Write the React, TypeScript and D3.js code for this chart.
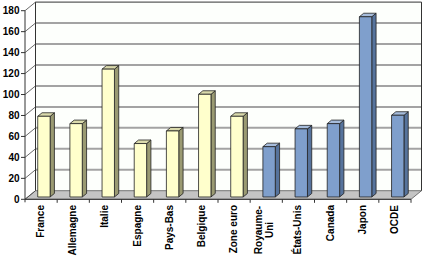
import React from "react";
import * as d3 from "d3";

const categories = ["France", "Allemagne", "Italie", "Espagne", "Pays-Bas", "Belgique", "Zone euro", "Royaume-Uni", "États-Unis", "Canada", "Japon", "OCDE"];
const labelLines = [["France"], ["Allemagne"], ["Italie"], ["Espagne"], ["Pays-Bas"], ["Belgique"], ["Zone euro"], ["Royaume-", "Uni"], ["États-Unis"], ["Canada"], ["Japon"], ["OCDE"]];
const values = [77, 70, 122, 51, 63, 98, 77, 48, 65, 70, 172, 78];
const groups = ["eu", "eu", "eu", "eu", "eu", "eu", "eu", "other", "other", "other", "other", "other"];
const yTicks = [0, 20, 40, 60, 80, 100, 120, 140, 160, 180];

const W = 424, H = 259;
const DX = 10.5, DY = 8.6;
const BAR_F0 = 0.27, BAR_F1 = 0.68;

const palette: Record<string, { front: string; side: string; top: string }> = {
  eu: { front: "#ffffcc", side: "#9a9a72", top: "#dadaac" },
  other: { front: "#7f9fcc", side: "#56739c", top: "#a6bcdb" },
};

export default function App() {
  const x = d3.scaleBand<string>().domain(categories).range([25, 411]).paddingInner(0).paddingOuter(0);
  const y = d3.scaleLinear().domain([0, 180]).range([199.3, 10.7]);
  const x0 = x.range()[0], x1 = x.range()[1];
  const y0 = y(0), yTop = y(180);
  const bw = x.bandwidth() * 0.385;
  const font = "'Liberation Sans', Arial, sans-serif";

  return (
    <svg width={W} height={H} style={{ position: "absolute", left: 0, top: 0, background: "#fff" }}>
      {/* back wall */}
      <rect x={x0 + DX} y={yTop - DY} width={x1 - x0} height={y0 - yTop} fill="#fdfffc" />
      {/* floor */}
      <path
        d={`M${x0},${y0}L${x1},${y0}L${x1 + DX},${y0 - DY}L${x0 + DX},${y0 - DY}Z`}
        fill="#c4c4c4"
        stroke="#555"
        strokeWidth={0.8}
      />
      {/* back gridlines */}
      {yTicks.slice(1, -1).map((t) => (
        <line key={"g" + t} x1={x0 + DX} x2={x1 + DX} y1={y(t) - DY} y2={y(t) - DY} stroke="#a3a3a3" strokeWidth={2} />
      ))}
      {/* wall borders */}
      <path
        d={`M${x0 + DX},${y0 - DY}L${x0 + DX},${yTop - DY}L${x1 + DX},${yTop - DY}L${x1 + DX},${y0 - DY}`}
        fill="none"
        stroke="#333"
        strokeWidth={1}
      />
      {/* side wall diagonals */}
      {yTicks.map((t) => (
        <line key={"d" + t} x1={x0} y1={y(t)} x2={x0 + DX} y2={y(t) - DY} stroke="#444" strokeWidth={0.8} />
      ))}
      {/* y axis */}
      <line x1={x0} x2={x0} y1={yTop} y2={y0 + 3} stroke="#333" strokeWidth={1} />
      {yTicks.map((t) => (
        <g key={"t" + t}>
          <line x1={x0 - 4} x2={x0} y1={y(t)} y2={y(t)} stroke="#333" strokeWidth={1} />
          <text x={19.5} y={y(t)} dy="0.35em" textAnchor="end" fontFamily={font} fontWeight="bold" fontSize={10} fill="#000">
            {t}
          </text>
        </g>
      ))}
      {/* category ticks */}
      {categories.map((c) => (
        <line key={"ct" + c} x1={(x(c) as number) + x.bandwidth()} x2={(x(c) as number) + x.bandwidth()} y1={y0} y2={y0 + 3.5} stroke="#333" strokeWidth={1} />
      ))}
      <line x1={x0} x2={x1} y1={y0} y2={y0} stroke="#333" strokeWidth={1} />
      {/* bars */}
      {categories.map((c, i) => {
        const col = palette[groups[i]];
        const cx = (x(c) as number) + x.bandwidth() / 2 + BAR_F0 * DX;
        const bx0 = cx - bw / 2, bx1 = cx + bw / 2;
        const yb = y(0) - BAR_F0 * DY;
        const yt = y(values[i]) - BAR_F0 * DY;
        const ddx = (BAR_F1 - BAR_F0) * DX, ddy = (BAR_F1 - BAR_F0) * DY;
        return (
          <g key={"b" + c} stroke="#222" strokeWidth={0.8} strokeLinejoin="round">
            <path d={`M${bx1},${yt}L${bx1 + ddx},${yt - ddy}L${bx1 + ddx},${yb - ddy}L${bx1},${yb}Z`} fill={col.side} />
            <path d={`M${bx0},${yt}L${bx1},${yt}L${bx1 + ddx},${yt - ddy}L${bx0 + ddx},${yt - ddy}Z`} fill={col.top} />
            <rect x={bx0} y={yt} width={bw} height={yb - yt} fill={col.front} />
          </g>
        );
      })}
      {/* category labels */}
      {categories.map((c, i) => {
        const cx = (x(c) as number) + x.bandwidth() / 2;
        const lines = labelLines[i];
        if (lines.length === 1) {
          return (
            <text key={"l" + c} transform={`translate(${cx - 0.5},205) rotate(-90)`} textAnchor="end" dy="0.35em" fontFamily={font} fontWeight="bold" fontSize={10} fill="#000">
              {lines[0]}
            </text>
          );
        }
        return (
          <text key={"l" + c} transform={`translate(${cx - 2.5},230) rotate(-90)`} textAnchor="middle" fontFamily={font} fontWeight="bold" fontSize={10} fill="#000">
            {lines.map((ln, k) => (
              <tspan key={k} x={0} dy={k === 0 ? "-0.2em" : "1.1em"}>
                {ln}
              </tspan>
            ))}
          </text>
        );
      })}
    </svg>
  );
}
